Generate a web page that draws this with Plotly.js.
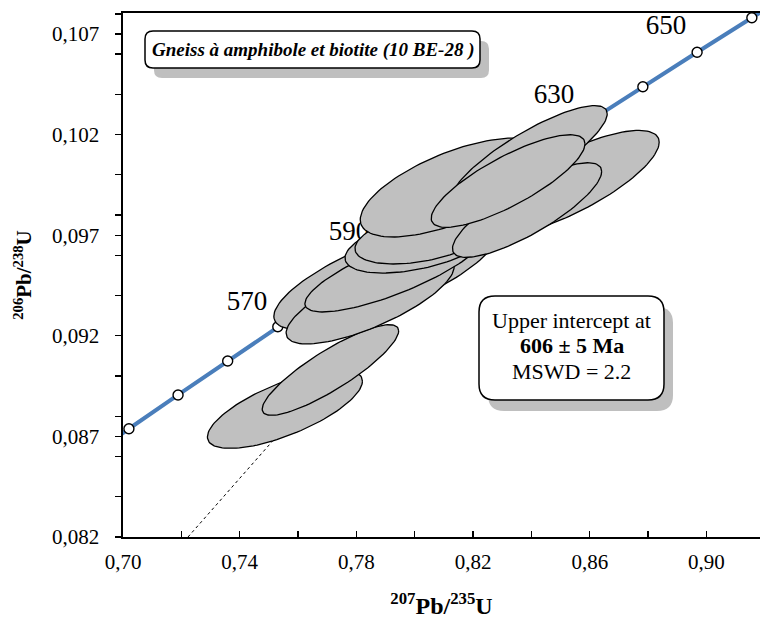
<!DOCTYPE html>
<html>
<head>
<meta charset="utf-8">
<script src="https://cdn.plot.ly/plotly-3.0.1.min.js"></script>
<style>html,body{margin:0;padding:0;background:#fff;}#chart{width:760px;height:621px;}</style>
</head>
<body>
<div id="chart"></div>
<script>
// Concordia reference points (ages in Ma)
const concAges = [540, 550, 560, 570, 580, 590, 600, 610, 620, 630, 640, 650, 660];
const concX = [0.70203, 0.71887, 0.73588, 0.75306, 0.77041, 0.78794, 0.80563, 0.82350, 0.84155, 0.85978, 0.87819, 0.89678, 0.91555];
const concY = [0.08738, 0.08906, 0.09075, 0.09245, 0.09414, 0.09584, 0.09754, 0.09925, 0.10095, 0.10266, 0.10438, 0.10609, 0.10781];
// Concordia curve as drawn (runs past the frame on both ends)
const curveX = [0.69880, 0.70203, 0.71887, 0.73588, 0.75306, 0.77041, 0.78794, 0.80563, 0.82350, 0.84155, 0.85978, 0.87819, 0.89678, 0.91555, 0.91929];
const curveY = [0.08704, 0.08738, 0.08906, 0.09075, 0.09245, 0.09414, 0.09584, 0.09754, 0.09925, 0.10095, 0.10266, 0.10438, 0.10609, 0.10781, 0.10815];
// Age labels
const ageLabelText = ['570', '590', '630', '650'];
const ageLabelX = [0.74250, 0.77747, 0.84773, 0.88612];
const ageLabelY = [0.09363, 0.09711, 0.10392, 0.10735];
// Discordia (dashed lower extension)
const discX = [0.72228, 0.75553];
const discY = [0.08200, 0.08747];
// Error ellipses: centre, 2-sigma half extents, correlation (drawing order)
const ellX   = [0.7555, 0.7711, 0.7901, 0.7847, 0.7932, 0.8018, 0.8035, 0.8132, 0.8529, 0.8392, 0.8385, 0.8320];
const ellY   = [0.08836, 0.09030, 0.09502, 0.09378, 0.09527, 0.09661, 0.09696, 0.09937, 0.09959, 0.10092, 0.09825, 0.09969];
const ellSx  = [0.02656, 0.02338, 0.03839, 0.02879, 0.03085, 0.02571, 0.02399, 0.03188, 0.03088, 0.02677, 0.02557, 0.02636];
const ellSy  = [0.001958, 0.002251, 0.002734, 0.002187, 0.002087, 0.001491, 0.001392, 0.00246, 0.002619, 0.00252, 0.002351, 0.002301];
const ellRho = [0.707, 0.863, 0.75, 0.75, 0.80, 0.50, 0.45, 0.65, 0.775, 0.839, 0.816, 0.804];
// Axis ticks
const xTick0 = 0.70, xDtick = 0.04, xMinor = 0.02;
const yTick0 = 0.082, yDtick = 0.005, yMinor = 0.002;

const FONT = 'Liberation Serif';
const traces = [];
traces.push({x: curveX, y: curveY, mode: 'lines', line: {color: '#4a7ebb', width: 4}, hoverinfo: 'skip'});
traces.push({x: concX, y: concY, mode: 'markers', marker: {size: 10, color: '#fff', line: {color: '#000', width: 1.4}}, hoverinfo: 'skip', cliponaxis: false});
traces.push({x: ageLabelX, y: ageLabelY, mode: 'text', text: ageLabelText, textposition: 'middle center', textfont: {family: FONT, size: 27, color: '#000'}, hoverinfo: 'skip'});
traces.push({x: discX, y: discY, mode: 'lines', line: {color: '#000', width: 1, dash: '3px,3px'}, hoverinfo: 'skip'});

for (let i = 0; i < ellX.length; i++) {
  const xs = [], ys = [];
  const N = 120, r = ellRho[i], q = Math.sqrt(1 - r * r);
  for (let k = 0; k <= N; k++) {
    const t = 2 * Math.PI * k / N;
    xs.push(ellX[i] + ellSx[i] * Math.cos(t));
    ys.push(ellY[i] + ellSy[i] * (r * Math.cos(t) + q * Math.sin(t)));
  }
  traces.push({x: xs, y: ys, mode: 'lines', fill: 'toself', fillcolor: '#c0c0c0', line: {color: '#000', width: 1.3}, hoverinfo: 'skip'});
}

// pixel -> paper helpers for decorations
const L = 123, T = 13, W = 637, H = 524;
const px = v => (v - L) / W;
const py = v => (T + H - v) / H;
function roundRect(x0, y0, x1, y1, r) {
  const P = (a, b) => px(a).toFixed(5) + ',' + py(b).toFixed(5);
  return 'M' + P(x0 + r, y0) + ' L' + P(x1 - r, y0) + ' Q' + P(x1, y0) + ' ' + P(x1, y0 + r) +
    ' L' + P(x1, y1 - r) + ' Q' + P(x1, y1) + ' ' + P(x1 - r, y1) +
    ' L' + P(x0 + r, y1) + ' Q' + P(x0, y1) + ' ' + P(x0, y1 - r) +
    ' L' + P(x0, y0 + r) + ' Q' + P(x0, y0) + ' ' + P(x0 + r, y0) + ' Z';
}
const shapes = [
  {type: 'path', xref: 'paper', yref: 'paper', path: roundRect(154, 41, 489, 78, 8), fillcolor: '#bfbfbf', line: {width: 0}},
  {type: 'path', xref: 'paper', yref: 'paper', path: roundRect(145, 31, 480, 68, 8), fillcolor: '#fff', line: {color: '#000', width: 1.5}},
  {type: 'path', xref: 'paper', yref: 'paper', path: roundRect(488, 307, 673, 411, 16), fillcolor: '#bfbfbf', line: {width: 0}},
  {type: 'path', xref: 'paper', yref: 'paper', path: roundRect(479, 296, 664, 400, 16), fillcolor: '#fff', line: {color: '#000', width: 1.5}}
];
const annotations = [
  {xref: 'paper', yref: 'paper', x: px(312.5), y: py(49.5), text: '<b><i>Gneiss à amphibole et biotite (10 BE-28 )</i></b>', showarrow: false, font: {family: FONT, size: 19, color: '#000'}, xanchor: 'center', yanchor: 'middle'},
  {xref: 'paper', yref: 'paper', x: px(571.5), y: py(320), text: 'Upper intercept at', showarrow: false, font: {family: FONT, size: 22, color: '#000'}, xanchor: 'center', yanchor: 'middle'},
  {xref: 'paper', yref: 'paper', x: px(571.5), y: py(346), text: '<b>606 ± 5 Ma</b>', showarrow: false, font: {family: FONT, size: 22, color: '#000'}, xanchor: 'center', yanchor: 'middle'},
  {xref: 'paper', yref: 'paper', x: px(571.5), y: py(371), text: 'MSWD = 2.2', showarrow: false, font: {family: FONT, size: 22, color: '#000'}, xanchor: 'center', yanchor: 'middle'}
];

const layout = {
  width: 760, height: 621,
  margin: {l: L, r: 0, t: T, b: 621 - T - H, pad: 0},
  paper_bgcolor: '#fff', plot_bgcolor: '#fff',
  showlegend: false, hovermode: false,
  separators: ', ',
  font: {family: FONT, color: '#000'},
  xaxis: {
    range: [0.70, 0.91834], tick0: xTick0, dtick: xDtick, tickformat: '.2f',
    ticks: 'inside', ticklen: 6, tickwidth: 1.3, tickcolor: '#000',
    showline: true, linecolor: '#000', linewidth: 1.6, mirror: true,
    showgrid: false, zeroline: false, tickfont: {family: FONT, size: 21, color: '#000'},
    ticklabelstandoff: 5,
    minor: {tick0: xTick0, dtick: xMinor, ticks: 'inside', ticklen: 6, tickwidth: 1.3, tickcolor: '#000', showgrid: false},
    title: {text: '<b><sup>207</sup>Pb/<sup>235</sup>U</b>', font: {family: FONT, size: 24, color: '#000'}, standoff: 24}
  },
  yaxis: {
    range: [0.082, 0.108043], tick0: yTick0, dtick: yDtick, tickformat: '.3f',
    ticks: 'outside', ticklen: 6, tickwidth: 1.3, tickcolor: '#000',
    showline: true, linecolor: '#000', linewidth: 1.6, mirror: false,
    showgrid: false, zeroline: false, tickfont: {family: FONT, size: 21, color: '#000'},
    ticklabelstandoff: 12,
    minor: {tick0: yTick0, dtick: yMinor, ticks: 'outside', ticklen: 6, tickwidth: 1.3, tickcolor: '#000', showgrid: false},
    title: {text: '<b><sup>206</sup>Pb/<sup>238</sup>U</b>', font: {family: FONT, size: 21, color: '#000'}, standoff: 14}
  },
  shapes: shapes,
  annotations: annotations
};

Plotly.newPlot('chart', traces, layout, {staticPlot: true, displayModeBar: false});
</script>
</body>
</html>
